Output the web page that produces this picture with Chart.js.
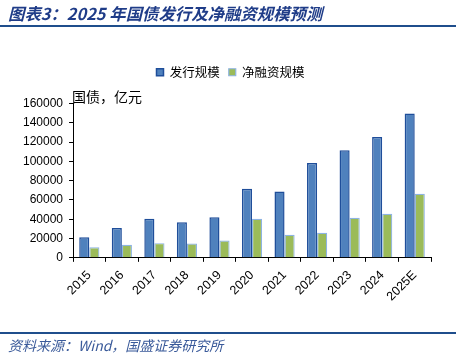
<!DOCTYPE html>
<html><head><meta charset="utf-8">
<script src="https://cdn.jsdelivr.net/npm/chart.js@4"></script>
<style>
html,body{margin:0;padding:0;background:#fff;width:456px;height:356px;overflow:hidden;}
#title{position:absolute;left:8px;top:2px;font:italic bold 16.4px "Noto Sans CJK SC","Liberation Sans",sans-serif;color:#1F3C88;white-space:nowrap;line-height:22px;}
#rule1{position:absolute;left:0;top:25px;width:456px;height:2px;background:#1F4E8C;}
#rule2{position:absolute;left:0;top:332px;width:456px;height:2px;background:#1F4E8C;}
#foot{position:absolute;left:8px;top:336px;font:italic 14px "Noto Sans CJK SC","Liberation Sans",sans-serif;color:#3A5A9A;white-space:nowrap;line-height:18px;}
#unit{position:absolute;left:72px;top:87px;font:14px "Noto Sans CJK SC",sans-serif;color:#000;white-space:nowrap;line-height:18px;}
#wrap{position:absolute;left:0;top:0;width:456px;height:356px;}
</style></head>
<body>
<div id="wrap"><canvas id="c" width="456" height="356"></canvas></div>
<div id="title">图表3：2025 年国债发行及净融资规模预测</div>
<div id="rule1"></div>
<div id="unit">国债，亿元</div>
<div id="rule2"></div>
<div id="foot">资料来源：Wind，国盛证券研究所</div>
<script>
const categories = ["2015","2016","2017","2018","2019","2020","2021","2022","2023","2024","2025E"];
const issuance = [21400, 31000, 40500, 37000, 42200, 71500, 68800, 98300, 111500, 125300, 149600];
const netFinancing = [11000, 13600, 15200, 14800, 18000, 40500, 23900, 26000, 41600, 45700, 66500];
const seriesNames = ["发行规模", "净融资规模"];
const yTicks = [0, 20000, 40000, 60000, 80000, 100000, 120000, 140000, 160000];

const legendSpace = {
  id: 'legendSpace',
  beforeInit(chart) {
    const lg = chart.legend;
    const origFit = lg.fit;
    lg.fit = function () { origFit.call(lg); lg.height += 15; };
    const origDraw = lg.draw;
    lg.draw = function () {
      const ctx = chart.ctx;
      ctx.save(); ctx.translate(6.5, 0); origDraw.call(lg); ctx.restore();
    };
  }
};

new Chart(document.getElementById('c'), {
  type: 'bar',
  data: {
    labels: categories,
    datasets: [
      { label: seriesNames[0], data: issuance, backgroundColor: '#4F81BD', borderColor: '#1F4E9A', borderWidth: 1.5 },
      { label: seriesNames[1], data: netFinancing, backgroundColor: '#9BBB59', borderColor: '#8DB3E2', borderWidth: 1.2 }
    ]
  },
  options: {
    responsive: false,
    animation: false,
    devicePixelRatio: 1,
    datasets: { bar: { categoryPercentage: 0.62, barPercentage: 1.0 } },
    layout: { padding: { top: 57, left: 17, right: 25, bottom: 46 } },
    plugins: {
      legend: {
        position: 'top',
        labels: { boxWidth: 7, boxHeight: 7, padding: 9, color: '#000',
          font: { family: '"Noto Sans CJK SC", sans-serif', size: 12.5 } }
      },
      tooltip: { enabled: false }
    },
    scales: {
      x: {
        grid: { display: true, drawOnChartArea: false, drawTicks: true, tickLength: 4, color: '#000', offset: true },
        border: { color: '#000', width: 1 },
        ticks: { minRotation: 45, maxRotation: 45, color: '#000', padding: 6,
          font: { family: '"Liberation Sans", Arial, sans-serif', size: 12.5 } }
      },
      y: {
        min: 0, max: 160000,
        afterBuildTicks(axis) { axis.ticks = yTicks.map(v => ({ value: v })); },
        grid: { display: true, drawOnChartArea: false, drawTicks: true, tickLength: 4, color: '#000' },
        border: { color: '#000', width: 1 },
        ticks: { color: '#000', padding: 6, callback: v => String(v),
          font: { family: '"Liberation Sans", Arial, sans-serif', size: 12 } }
      }
    }
  },
  plugins: [legendSpace]
});
</script>
</body></html>
